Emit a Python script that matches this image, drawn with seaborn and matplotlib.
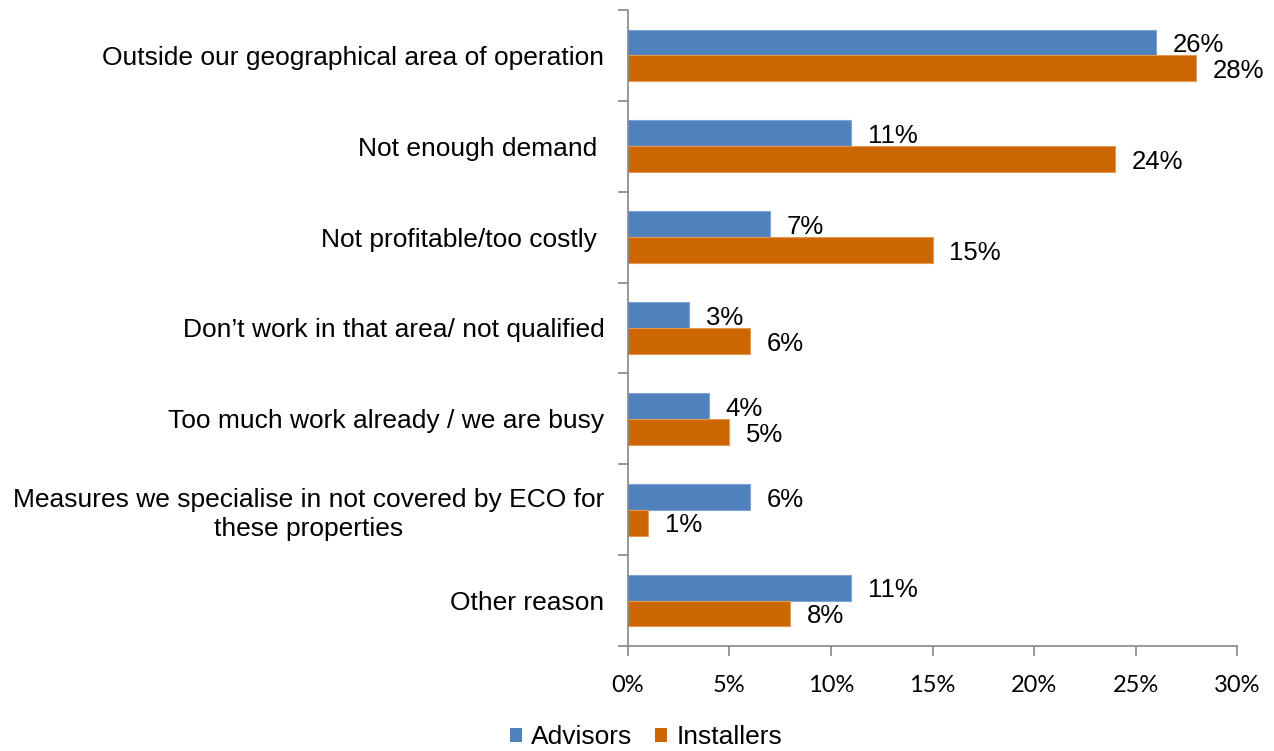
import matplotlib
matplotlib.use("Agg")
import matplotlib.pyplot as plt
from matplotlib.patches import Patch
from matplotlib.ticker import FixedLocator, FuncFormatter
import seaborn as sns
import pandas as pd

categories = [
    "Outside our geographical area of operation",
    "Not enough demand ",
    "Not profitable/too costly ",
    "Don\u2019t work in that area/ not qualified",
    "Too much work already / we are busy",
    "Measures we specialise in not covered by ECO for\nthese properties",
    "Other reason",
]
advisors = [26, 11, 7, 3, 4, 6, 11]
installers = [28, 24, 15, 6, 5, 1, 8]
series_names = ["Advisors", "Installers"]
x_ticks = [0, 5, 10, 15, 20, 25, 30]

colors = {"Advisors": "#4F81BD", "Installers": "#CC6600"}
edges = {"Advisors": "#7EA3D4", "Installers": "#E69A50"}

df = pd.DataFrame({
    "reason": categories * 2,
    "series": [series_names[0]] * len(categories) + [series_names[1]] * len(categories),
    "value": advisors + installers,
})

sns.set_style("white")
plt.rcParams["font.family"] = ["Liberation Sans", "DejaVu Sans"]
plt.rcParams["text.color"] = "black"
plt.rcParams["xtick.color"] = "black"
plt.rcParams["ytick.color"] = "black"

fig = plt.figure(figsize=(12.74, 7.51), dpi=100)
ax = fig.add_axes([0.4929, 0.1398, 0.9710 - 0.4929, 0.9867 - 0.1398])

sns.barplot(data=df, y="reason", x="value", hue="series", order=categories,
            hue_order=series_names, palette=colors, orient="h",
            width=0.57, gap=0, legend=False, ax=ax, saturation=1)

# value labels just past the end of each bar
for container, name in zip(ax.containers, series_names):
    for bar, v in zip(container, container.datavalues):
        bar.set_edgecolor(edges[name])
        bar.set_linewidth(0.8)
        yc = bar.get_y() + bar.get_height() / 2
        ax.annotate(f"{v:.0f}%", xy=(v, yc), xytext=(12, -2),
                    textcoords="offset points", ha="left", va="center",
                    fontsize=18.5, color="black")

n = len(categories)
ax.set_xlim(0, 30)
ax.set_ylim(n - 0.5, -0.5)
ax.set_xlabel("")
ax.set_ylabel("")

# category labels at bar centres, tick marks on category boundaries
ax.yaxis.set_major_locator(FixedLocator([i - 0.5 for i in range(n + 1)]))
ax.yaxis.set_major_formatter(FuncFormatter(lambda v, p: ""))
ax.yaxis.set_minor_locator(FixedLocator(list(range(n))))
ax.set_yticklabels(categories, minor=True, fontsize=19, multialignment="center",
                   color="black", linespacing=1.25)
ax.tick_params(axis="y", which="major", direction="out", length=7, width=1.2,
               color="#868686", left=True)
ax.tick_params(axis="y", which="minor", length=0, pad=17)

ax.set_xticks(x_ticks)
ax.set_xticklabels([f"{t}%" for t in x_ticks], fontfamily="Lato", fontsize=17,
                   color="black")
ax.tick_params(axis="x", direction="out", length=7, width=1.2, color="#868686",
               bottom=True, pad=14)

for side in ("top", "right"):
    ax.spines[side].set_visible(False)
for side in ("left", "bottom"):
    ax.spines[side].set_color("#868686")
    ax.spines[side].set_linewidth(1.2)
ax.grid(False)

handles = [Patch(facecolor=colors[s], edgecolor="none", label=s) for s in series_names]
fig.legend(handles=handles, loc="center", bbox_to_anchor=(0.507, 0.018), ncol=2,
           frameon=False, fontsize=19, handlelength=0.45, handleheight=0.45,
           handletextpad=0.35, columnspacing=0.87, borderaxespad=0)

fig.savefig("out.png", dpi=100)
